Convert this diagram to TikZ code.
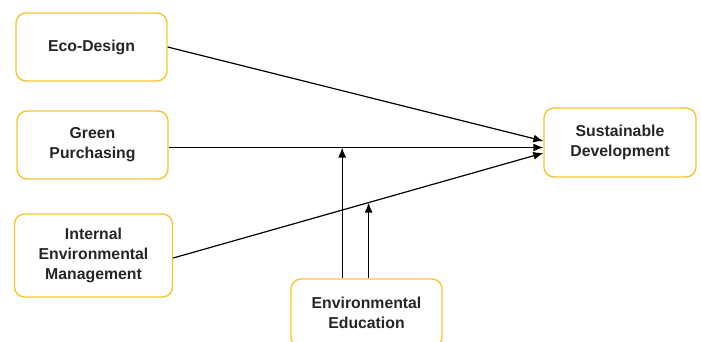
\documentclass[tikz,border=0pt]{standalone}
\usepackage{fontspec}
\setmainfont{Liberation Sans}
\usetikzlibrary{arrows.meta}
\definecolor{boxyellow}{HTML}{F7C531}
\begin{document}
\begin{tikzpicture}[x=1pt,y=-1pt,
  box/.style={draw=boxyellow,line width=1.4pt,rounded corners=10pt,fill=white,
    minimum width=151pt,minimum height=68pt,inner sep=0pt,align=center,
    text=black!85,font=\fontsize{15.8}{20}\selectfont\bfseries},
  link/.style={line width=1.2pt,-{Latex[length=10pt,width=8pt]}}]
\clip (0,0) rectangle (701,341); % page size of the reference
% factors
\node[box] (eco) at (91.5,47) {Eco-Design};
\node[box] (green) at (92.5,145) {Green\\Purchasing};
\node[box,minimum width=158pt,minimum height=83pt] (iem) at (93.5,255.5) {Internal\\Environmental\\Management};
% outcome and moderator
\node[box,minimum width=152pt,minimum height=69pt] (sd) at (620,142.5) {Sustainable\\Development};
\node[box] (edu) at (366.5,313) {Environmental\\Education};
% paths
\draw[link] (eco.east) -- ([yshift=1.5pt]sd.west);
\draw[link] ([yshift=-2.5pt]green.east) -- coordinate[pos=.463] (m1) ([yshift=-2.5pt]green.east -| sd.west);
\draw[link] ([yshift=-2.5pt]iem.east) -- coordinate[pos=.528] (m2) ([yshift=-10.5pt]sd.west);
\draw[link] (edu.north -| m1) -- (m1);
\draw[link] (edu.north -| m2) -- (m2);
\end{tikzpicture}
\end{document}
